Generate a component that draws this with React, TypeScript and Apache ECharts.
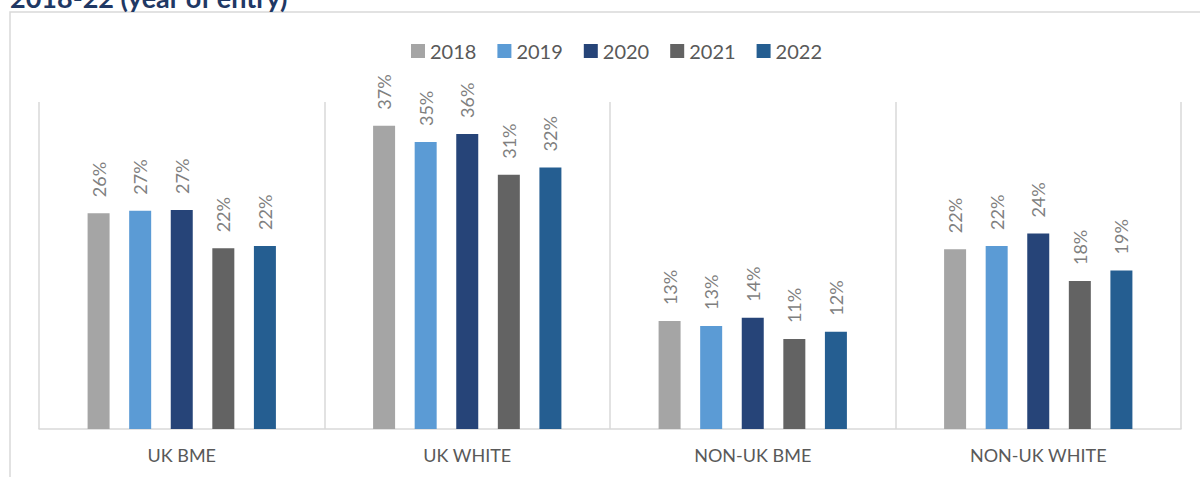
import React, { useEffect, useRef } from "react";
import * as echarts from "echarts";

const categories = ["UK BME", "UK WHITE", "NON-UK BME", "NON-UK WHITE"];
const years = ["2018", "2019", "2020", "2021", "2022"];
const values2018 = [26.4, 37.1, 13.2, 22.0];
const values2019 = [26.7, 35.1, 12.6, 22.4];
const values2020 = [26.8, 36.1, 13.6, 23.9];
const values2021 = [22.1, 31.1, 11.0, 18.1];
const values2022 = [22.4, 32.0, 11.9, 19.4];
const colors = ["#A5A5A5", "#5B9BD5", "#264478", "#636363", "#255E91"];
const titleText = "2018-22 (year of entry)";

const FONT = "Lato, 'Open Sans', sans-serif";

export default function App() {
  const ref = useRef<HTMLDivElement>(null);
  useEffect(() => {
    if (!ref.current) return;
    const chart = echarts.init(ref.current, undefined, { renderer: "svg" });
    const seriesData = [values2018, values2019, values2020, values2021, values2022];
    chart.setOption({
      animation: false,
      backgroundColor: "#ffffff",
      textStyle: { fontFamily: FONT },
      graphic: [
        {
          type: "rect",
          shape: { x: 10, y: 12, width: 1400, height: 700 },
          style: { fill: "none", stroke: "#D9D9D9", lineWidth: 1.5 },
          silent: true,
        },
        {
          type: "text",
          x: 10,
          y: 11,
          style: {
            text: titleText,
            fontFamily: FONT,
            fontSize: 27,
            fontWeight: "bold",
            fill: "#1F3864",
            verticalAlign: "bottom",
            align: "left",
          },
        },
      ],
      legend: {
        data: years,
        left: 406,
        top: 36,
        itemWidth: 14,
        itemHeight: 14,
        itemGap: 21,
        icon: "rect",
        textStyle: { color: "#595959", fontSize: 20, fontFamily: FONT },
      },
      grid: { left: 39, right: 19, top: 102, bottom: 48, containLabel: false },
      xAxis: {
        type: "category",
        data: categories,
        axisLine: { show: true, lineStyle: { color: "#D9D9D9", width: 1.5 } },
        axisTick: { show: false },
        splitLine: { show: true, lineStyle: { color: "#D9D9D9", width: 1.5 } },
        axisLabel: { color: "#595959", fontSize: 18, margin: 17, fontFamily: FONT },
      },
      yAxis: { type: "value", min: 0, max: 40, show: false },
      series: years.map((y, i) => ({
        name: y,
        type: "bar",
        data: seriesData[i],
        barWidth: 22,
        barGap: "89%",
        itemStyle: { color: colors[i] },
        label: {
          show: true,
          position: "top",
          rotate: 90,
          align: "left",
          verticalAlign: "middle",
          distance: 16,
          color: "#7F7F7F",
          fontSize: 18,
          fontFamily: FONT,
          formatter: (p: any) => Math.round(p.value) + "%",
        },
      })),
    });
    return () => chart.dispose();
  }, []);
  return (
    <div
      ref={ref}
      style={{ position: "fixed", left: 0, top: 0, width: 1200, height: 477 }}
    />
  );
}
